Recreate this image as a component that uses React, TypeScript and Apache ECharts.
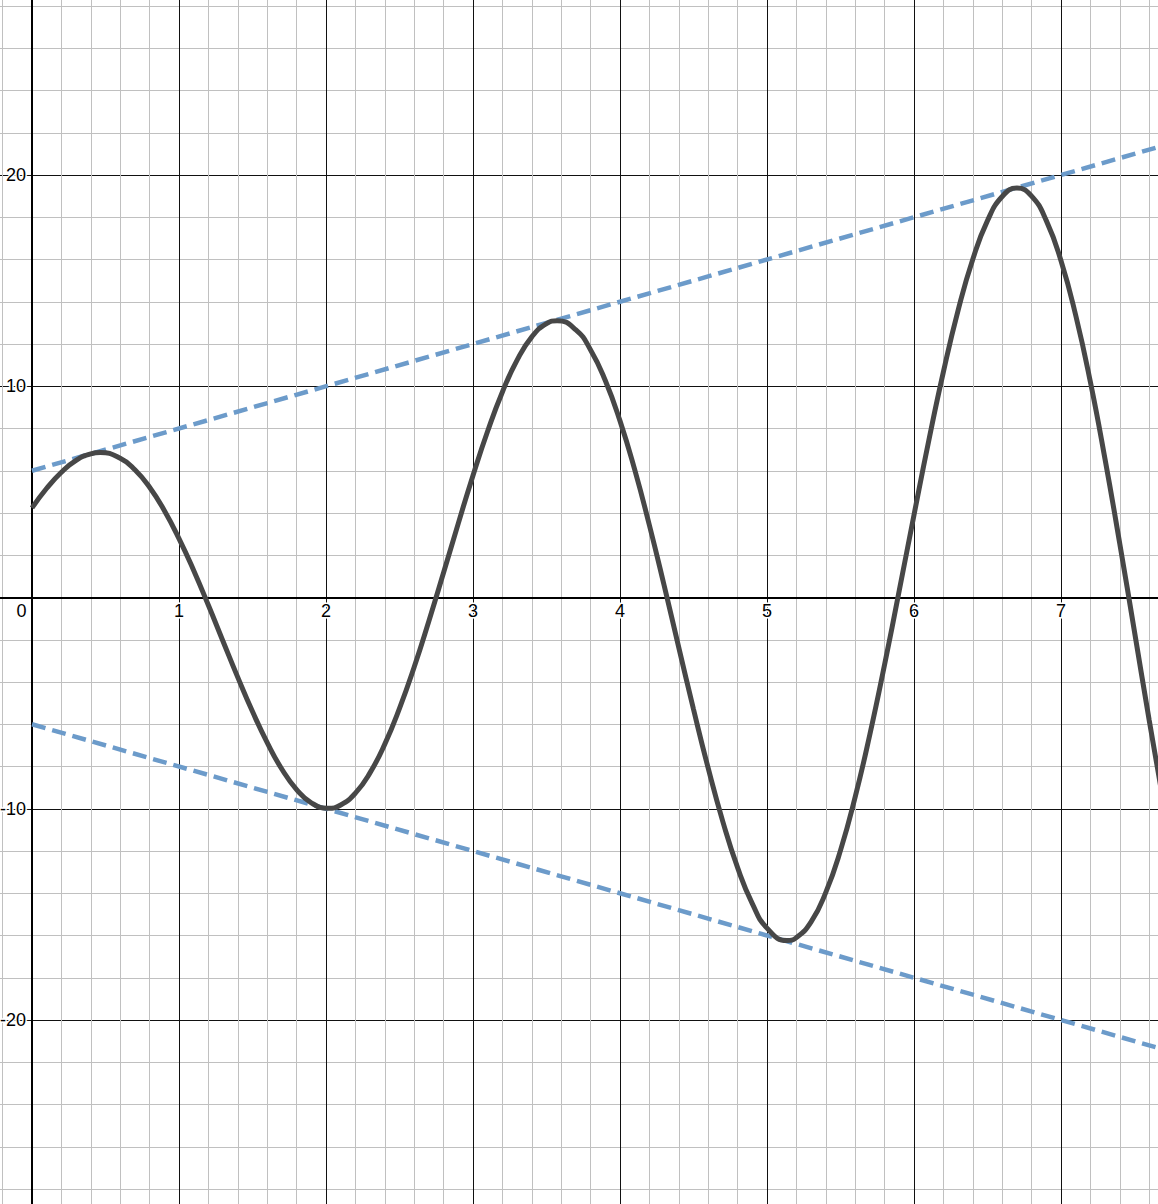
import { useEffect, useRef } from "react";
import * as echarts from "echarts";

// axis ranges (the grid runs past the picture edges so ticks stay on whole numbers)
const xRange = [-1, 8];
const yRange = [-30, 30];
const xLabelValues = [1, 2, 3, 4, 5, 6, 7];
const yLabelValues = [-20, -10, 10, 20];

// black curve (about every 0.1, plus the turning points)
const curveX = [
  0, 0.1, 0.2, 0.3, 0.4, 0.465, 0.6, 0.7, 0.8, 0.9, 1, 1.1, 1.2, 1.3, 1.4, 1.5, 1.6, 1.7, 1.8, 1.9,
  2.013, 2.1, 2.2, 2.3, 2.4, 2.5, 2.6, 2.7, 2.8, 2.9, 3, 3.1, 3.2, 3.3, 3.4, 3.5, 3.572, 3.7, 3.8, 3.9,
  4, 4.1, 4.2, 4.3, 4.4, 4.5, 4.6, 4.7, 4.8, 4.9, 5, 5.136, 5.2, 5.3, 5.4, 5.5, 5.6, 5.7, 5.8, 5.9,
  6, 6.1, 6.2, 6.3, 6.4, 6.5, 6.6, 6.7, 6.8, 6.9, 7, 7.1, 7.2, 7.3, 7.4, 7.5, 7.6, 7.7,
];
const curveY = [
  4.24, 5.17, 5.93, 6.49, 6.8, 6.86, 6.59, 6.05, 5.22, 4.12, 2.79, 1.28, -0.37, -2.08, -3.78, -5.4, -6.87, -8.13, -9.09, -9.72,
  -9.98, -9.82, -9.26, -8.29, -6.94, -5.25, -3.29, -1.11, 1.18, 3.51, 5.78, 7.88, 9.73, 11.24, 12.34, 12.97, 13.1, 12.67, 11.72, 10.27,
  8.36, 6.05, 3.42, 0.58, -2.37, -5.29, -8.08, -10.62, -12.79, -14.49, -15.65, -16.24, -16.1, -15.36, -13.96, -11.97, -9.44, -6.47, -3.17, 0.34,
  3.91, 7.41, 10.68, 13.59, 16.01, 17.84, 18.98, 19.38, 19.0, 17.84, 15.94, 13.36, 10.2, 6.53, 2.54, -1.62, -5.81, -9.83,
];

// dashed envelope lines
const upperLine = [
  [0, 6],
  [7.7, 21.4],
];
const lowerLine = [
  [0, -6],
  [7.7, -21.4],
];

const W = 1158;
const H = 1204;
const originX = 32;
const originY = 597.5;
const pxPerX = 147;
const pxPerY = 21.125;

const font = "Arial, 'Liberation Sans', sans-serif";

export default function App() {
  const ref = useRef<HTMLDivElement | null>(null);

  useEffect(() => {
    if (!ref.current) return;
    const chart = echarts.init(ref.current, null, { renderer: "svg" });

    const labelStyle = {
      color: "#000",
      fontSize: 18,
      fontFamily: font,
      textBorderColor: "#fff",
      textBorderWidth: 3,
    };

    const gridLeft = originX + xRange[0] * pxPerX;
    const gridBottom = H - (originY - yRange[0] * pxPerY);

    chart.setOption({
      animation: false,
      backgroundColor: "#fff",
      grid: {
        left: gridLeft,
        right: W - (originX + xRange[1] * pxPerX),
        top: originY - yRange[1] * pxPerY,
        bottom: gridBottom,
        containLabel: false,
        outerBoundsMode: "none",
      },
      xAxis: {
        type: "value",
        position: "bottom",
        // move the axis from the grid's bottom edge up to y = 0
        offset: -(H - gridBottom - originY),
        min: xRange[0],
        max: xRange[1],
        interval: 1,
        axisLine: { onZero: false, lineStyle: { color: "#000", width: 2 } },
        axisTick: { show: false },
        minorTick: { show: false, splitNumber: 5 },
        splitLine: { show: true, lineStyle: { color: "#111", width: 1 } },
        minorSplitLine: { show: true, lineStyle: { color: "#c0c0c0", width: 1 } },
        axisLabel: {
          ...labelStyle,
          margin: 4,
          formatter: (v: number) => {
            if (v === 0) return "{z|0}";
            return xLabelValues.includes(v) ? String(v) : "";
          },
          rich: {
            z: { ...labelStyle, padding: [0, 21, 0, 0] },
          },
        },
        z: 1,
      },
      yAxis: {
        type: "value",
        position: "left",
        // move the axis from the grid's left edge to x = 0
        offset: -(originX - gridLeft),
        min: yRange[0],
        max: yRange[1],
        interval: 10,
        axisLine: { onZero: false, lineStyle: { color: "#000", width: 2 } },
        axisTick: { show: false },
        minorTick: { show: false, splitNumber: 5 },
        splitLine: { show: true, lineStyle: { color: "#111", width: 1 } },
        minorSplitLine: { show: true, lineStyle: { color: "#c0c0c0", width: 1 } },
        axisLabel: {
          ...labelStyle,
          margin: 6,
          formatter: (v: number) => (yLabelValues.includes(v) ? String(v) : ""),
        },
        z: 1,
      },
      series: [
        {
          type: "line",
          data: upperLine,
          symbol: "none",
          lineStyle: { color: "#6c9bca", width: 4.5, type: [14, 7] },
          z: 3,
        },
        {
          type: "line",
          data: lowerLine,
          symbol: "none",
          lineStyle: { color: "#6c9bca", width: 4.5, type: [14, 7] },
          z: 3,
        },
        {
          type: "line",
          data: curveX.map((x, i) => [x, curveY[i]]),
          symbol: "none",
          smooth: true,
          lineStyle: { color: "#474747", width: 5 },
          z: 4,
        },
      ],
    });

    return () => chart.dispose();
  }, []);

  return (
    <div
      ref={ref}
      style={{ position: "absolute", left: 0, top: 0, width: W, height: H }}
    />
  );
}
